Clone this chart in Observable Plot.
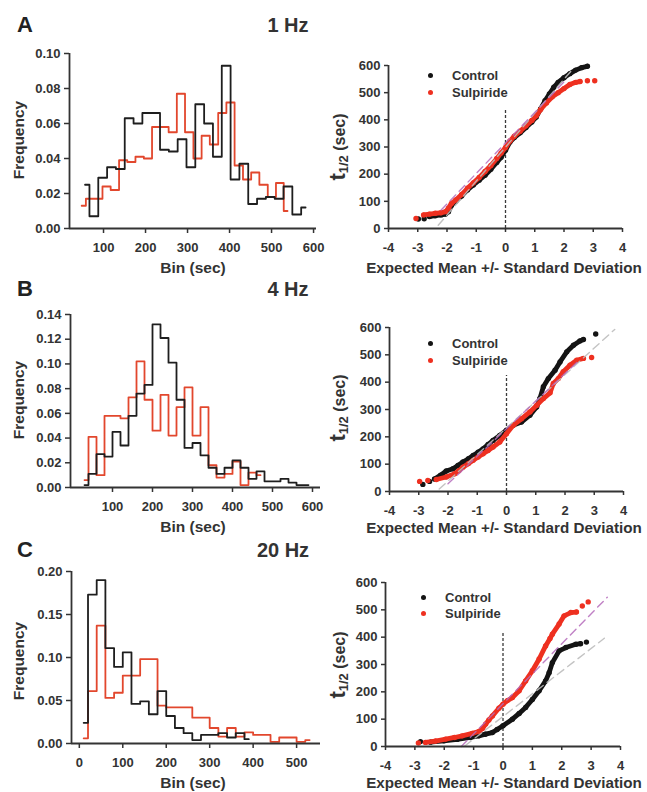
<!DOCTYPE html>
<html>
<head>
<meta charset="utf-8">
<script src="https://cdn.jsdelivr.net/npm/d3@7"></script>
<script src="https://cdn.jsdelivr.net/npm/@observablehq/plot@0.6"></script>
<style>
  html, body { margin: 0; padding: 0; background: #fff; }
  #root { position: relative; width: 647px; height: 792px; overflow: hidden; background: #fff;
          font-family: "Liberation Sans", Arial, Helvetica, sans-serif; font-weight: bold; color: #333; }
  .lbl { position: absolute; white-space: nowrap; line-height: 1; }
  .dot { position: absolute; border-radius: 50%; }
</style>
</head>
<body>
<div id="root"></div>
<script>
// ---------------- DATA ----------------
// Panel A (1 Hz) histograms: bin centres (sec) and frequencies
const histA_ctl_bin  = [56,77,98,119,140,161,182,203,224,245,266,287,308,329,350,371,392,413,434,455,476,497,518,539,560,581];
const histA_ctl_freq = [0.025,0.007,0.029,0.035,0.034,0.063,0.060,0.066,0.066,0.045,0.044,0.051,0.035,0.071,0.060,0.041,0.093,0.028,0.037,0.014,0.017,0.018,0.017,0.024,0.008,0.012];
const histA_sul_bin  = [48,68,88,107,127,147,166,186,206,225,245,265,284,304,324,343,363,383,402,422,442,461,481,501,520,538];
const histA_sul_freq = [0.013,0.017,0.017,0.024,0.022,0.039,0.038,0.041,0.040,0.058,0.058,0.055,0.077,0.055,0.040,0.053,0.048,0.066,0.072,0.036,0.028,0.032,0.025,0.018,0.026,0.010];
const histA_xTicks = [100,200,300,400,500,600];
const histA_yTicks = [0,0.02,0.04,0.06,0.08,0.10];

// Panel B (4 Hz)
const histB_ctl_bin  = [30,50,70,90,110,130,150,170,190,210,230,250,270,290,310,330,350,370,390,410,430,450,470,490,510,530,550,570,590];
const histB_ctl_freq = [0.002,0.011,0.027,0.025,0.045,0.034,0.058,0.076,0.083,0.132,0.121,0.101,0.071,0.032,0.036,0.026,0.016,0.011,0.016,0.022,0.016,0.007,0.013,0.005,0.005,0.007,0.004,0.002,0.002];
const histB_sul_bin  = [30,50,70,90,110,130,150,170,190,210,230,250,270,290,310,330,350,370,390,410,430,450,470];
const histB_sul_freq = [0.006,0.041,0.010,0.058,0.058,0.056,0.073,0.102,0.071,0.046,0.075,0.042,0.065,0.081,0.042,0.065,0.018,0.008,0.011,0.021,0.002,0.012,0.010];
const histB_xTicks = [100,200,300,400,500,600];
const histB_yTicks = [0,0.02,0.04,0.06,0.08,0.10,0.12,0.14];

// Panel C (20 Hz)
const histC_ctl_bin  = [10,30,50,70,90,110,130,150,170,190,210,230,250,270,290,310,330,350,370,390];
const histC_ctl_freq = [0.024,0.173,0.190,0.111,0.089,0.106,0.046,0.049,0.034,0.061,0.032,0.018,0.012,0.004,0.010,0.010,0.012,0.007,0.012,0.005];
const histC_sul_bin  = [10,30,50,70,90,110,130,150,170,190,210,230,250,270,290,310,330,350,370,390,410,430,450,470,490,510,530];
const histC_sul_freq = [0.006,0.061,0.137,0.053,0.059,0.079,0.079,0.098,0.098,0.044,0.042,0.042,0.042,0.030,0.030,0.018,0.008,0.018,0.008,0.013,0.010,0.010,0.002,0.007,0.007,0.002,0.004];
const histC_xTicks = [0,100,200,300,400,500];
const histC_yTicks = [0,0.05,0.10,0.15,0.20];

// Probability plots: [expected z, t1/2 (sec)]
const qq_xTicks = [-4,-3,-2,-1,0,1,2,3,4];
const qq_yTicks = [0,100,200,300,400,500,600];

const qqA_ctl = [[-2.6,44],[-2.4,47],[-2.2,50],[-2.05,53],[-1.95,62],[-1.85,85],[-1.7,100],[-1.5,120],[-1.3,142],[-1.1,160],[-0.9,178],[-0.7,196],[-0.5,218],[-0.3,243],[-0.15,262],[0,288],[0.15,318],[0.3,335],[0.5,352],[0.7,372],[0.9,392],[1.05,410],[1.2,440],[1.35,470],[1.5,495],[1.65,520],[1.8,538],[2.0,555],[2.2,570],[2.4,583],[2.6,592],[2.8,597]];
const qqA_ctl_tail = [[-2.98,35],[-2.78,36]];
const qqA_sul = [[-2.8,50],[-2.6,53],[-2.4,56],[-2.2,58],[-2.05,62],[-1.95,75],[-1.85,92],[-1.7,105],[-1.5,125],[-1.3,148],[-1.1,168],[-0.9,188],[-0.7,210],[-0.5,232],[-0.3,258],[-0.15,278],[0,298],[0.15,322],[0.3,340],[0.5,358],[0.7,378],[0.9,398],[1.05,415],[1.2,438],[1.4,462],[1.6,485],[1.8,500],[2.0,515],[2.2,530],[2.4,538],[2.55,541]];
const qqA_sul_tail = [[-3.06,37],[2.8,544],[3.05,544]];
const qqA_ctl_fit = [[-2.3,12],[2.3,587]];
const qqA_sul_fit = [[-2.2,68],[2.05,545]];

const qqB_ctl = [[-2.46,46],[-2.25,60],[-2.06,75],[-1.83,83],[-1.66,95],[-1.49,108],[-1.3,120],[-1.14,132],[-0.97,144],[-0.8,156],[-0.63,172],[-0.46,187],[-0.23,205],[0,224],[0.23,242],[0.51,254],[0.8,279],[1.03,309],[1.14,340],[1.26,383],[1.43,413],[1.66,444],[1.83,474],[2.06,511],[2.29,535],[2.51,551],[2.63,556]];
const qqB_ctl_tail = [[-2.86,26],[-2.63,37],[3.05,576]];
const qqB_sul = [[-2.4,44],[-2.06,53],[-1.77,65],[-1.63,76],[-1.49,89],[-1.3,102],[-1.14,114],[-0.97,126],[-0.8,138],[-0.63,150],[-0.46,163],[-0.23,181],[0,211],[0.23,242],[0.51,266],[0.8,291],[1.03,315],[1.26,340],[1.49,361],[1.6,395],[1.77,413],[1.94,438],[2.17,462],[2.4,480],[2.63,487]];
const qqB_sul_tail = [[-2.97,37],[-2.69,40],[2.91,490]];
const qqB_ctl_fit = [[-2.3,9],[3.7,593]];
const qqB_sul_fit = [[-2.0,28],[2.5,482]];

const qqC_ctl = [[-2.47,16],[-2.01,21],[-1.56,26],[-1.11,33],[-0.82,39],[-0.6,45],[-0.36,51],[-0.2,62],[0,76],[0.32,100],[0.55,121],[0.77,143],[1.0,172],[1.23,204],[1.45,240],[1.57,270],[1.68,307],[1.91,350],[2.14,362],[2.48,374],[2.64,376]];
const qqC_ctl_tail = [[-2.81,18],[2.84,382]];
const qqC_sul = [[-2.64,15],[-2.3,20],[-1.95,27],[-1.65,33],[-1.39,39],[-1.05,48],[-0.82,55],[-0.7,66],[-0.59,82],[-0.48,97],[-0.36,112],[-0.14,140],[0,155],[0.15,168],[0.32,179],[0.55,204],[0.77,240],[1.0,277],[1.23,320],[1.45,368],[1.6,395],[1.68,411],[1.91,448],[2.08,478],[2.31,490],[2.5,492]];
const qqC_sul_tail = [[-2.88,13],[2.70,514],[2.90,529]];
const qqC_ctl_fit = [[-1.3,2],[3.45,396]];
const qqC_sul_fit = [[-1.42,0],[3.55,546]];

const panelLetters = ["A","B","C"];
const panelFreqs = ["1 Hz","4 Hz","20 Hz"];
const seriesNames = ["Control","Sulpiride"];

// ---------------- STYLE ----------------
const FONT = '"Liberation Sans", Arial, Helvetica, sans-serif';
const INK = "#333";
const H_BLACK = "#1e1e1e", H_RED = "#e2472d";
const Q_BLACK = "#141414", Q_RED = "#ee3020";
const root = document.getElementById("root");

function place(node, left, top) {
  node.style.position = "absolute";
  node.style.left = left + "px";
  node.style.top = top + "px";
  root.appendChild(node);
}
function label(html, x, y, size, opts = {}) {
  const d = document.createElement("div");
  d.className = "lbl";
  d.innerHTML = html;
  d.style.left = x + "px";
  d.style.top = y + "px";
  d.style.fontSize = size + "px";
  if (opts.color) d.style.color = opts.color;
  const tx = opts.left ? "translate(0,-50%)" : "translate(-50%,-50%)";
  d.style.transform = tx + (opts.rotate ? " rotate(-90deg)" : "");
  root.appendChild(d);
}
function legendDot(x, y, color) {
  const d = document.createElement("div");
  d.className = "dot";
  d.style.width = "5px"; d.style.height = "5px";
  d.style.left = (x - 2.5) + "px"; d.style.top = (y - 2.5) + "px";
  d.style.background = color;
  root.appendChild(d);
}

const baseStyle = {fontFamily: FONT, fontSize: "13px", fontWeight: "bold", color: INK,
                   background: "transparent", overflow: "visible"};

function histogram(o) {
  const ctl = o.ctlBin.map((b, i) => ({bin: b, freq: o.ctlFreq[i]}));
  const sul = o.sulBin.map((b, i) => ({bin: b, freq: o.sulFreq[i]}));
  const svg = Plot.plot({
    width: o.width, height: o.height,
    marginLeft: o.ml, marginRight: o.mr, marginTop: o.mt, marginBottom: o.mb,
    style: baseStyle,
    x: {domain: o.xDomain},
    y: {domain: o.yDomain},
    marks: [
      Plot.line(sul, {x: "bin", y: "freq", curve: "step", stroke: H_RED, strokeWidth: 1.8}),
      Plot.line(ctl, {x: "bin", y: "freq", curve: "step", stroke: H_BLACK, strokeWidth: 1.8}),
      Plot.ruleY([o.yDomain[0]], {stroke: INK, strokeWidth: 1.8}),
      Plot.ruleX([{x: o.xDomain[0], y1: o.yDomain[0], y2: o.yDomain[1]}], {x: "x", y1: "y1", y2: "y2", stroke: INK, strokeWidth: 1.8}),
      Plot.axisX(o.xTicks, {tickSize: 5, tickPadding: 9, strokeWidth: 1.5, tickFormat: d => String(d), label: null}),
      Plot.axisY(o.yTicks, {tickSize: 5, tickPadding: 4, strokeWidth: 1.5, tickFormat: d3.format(".2f"), label: null})
    ]
  });
  place(svg, o.left, o.top);
}

function qq(o) {
  const pts = a => a.map(([z, t]) => ({z, t}));
  const ctl = pts(o.ctl), sul = pts(o.sul);
  const ctlAll = ctl.concat(pts(o.ctlTail)), sulAll = sul.concat(pts(o.sulTail));
  const svg = Plot.plot({
    width: o.width, height: o.height,
    marginLeft: o.ml, marginRight: o.mr, marginTop: o.mt, marginBottom: o.mb,
    style: baseStyle,
    x: {domain: [-4, 4]},
    y: {domain: [0, 600]},
    marks: [
      Plot.ruleX([{x: 0, y1: 0, y2: o.zeroTop}], {x: "x", y1: "y1", y2: "y2", stroke: "#3a3a3a", strokeWidth: 1.3, strokeDasharray: "3,2"}),
      Plot.line(ctl, {x: "z", y: "t", stroke: Q_BLACK, strokeWidth: 4.8, strokeLinecap: "round", strokeLinejoin: "round"}),
      Plot.dot(ctlAll, {x: "z", y: "t", r: 2.7, fill: Q_BLACK}),
      Plot.line(sul, {x: "z", y: "t", stroke: Q_RED, strokeWidth: 4.8, strokeLinecap: "round", strokeLinejoin: "round"}),
      Plot.dot(sulAll, {x: "z", y: "t", r: 2.7, fill: Q_RED}),
      Plot.line(pts(o.ctlFit), {x: "z", y: "t", stroke: "#bdbdbd", strokeWidth: 1.4, strokeDasharray: "8,5", strokeOpacity: 0.9}),
      Plot.line(pts(o.sulFit), {x: "z", y: "t", stroke: "#b56bbb", strokeWidth: 1.4, strokeDasharray: "8,5", strokeOpacity: 0.85}),
      Plot.ruleY([0], {stroke: INK, strokeWidth: 1.8}),
      Plot.ruleX([{x: -4, y1: 0, y2: 600}], {x: "x", y1: "y1", y2: "y2", stroke: INK, strokeWidth: 1.8}),
      Plot.axisX(qq_xTicks, {tickSize: 4, tickPadding: 10, strokeWidth: 1.5, tickFormat: d => String(d), label: null}),
      Plot.axisY(qq_yTicks, {tickSize: 4, tickPadding: 4, strokeWidth: 1.5, tickFormat: d => String(d), label: null})
    ]
  });
  place(svg, o.left, o.top);
}

// ---------------- PANELS ----------------
histogram({left: 0, top: 40, width: 330, height: 230, ml: 69, mr: 14, mt: 13, mb: 42,
  xDomain: [19, 607], yDomain: [0, 0.10], xTicks: histA_xTicks, yTicks: histA_yTicks,
  ctlBin: histA_ctl_bin, ctlFreq: histA_ctl_freq, sulBin: histA_sul_bin, sulFreq: histA_sul_freq});
histogram({left: 0, top: 300, width: 330, height: 230, ml: 70, mr: 10, mt: 14, mb: 43,
  xDomain: [-5, 620], yDomain: [0, 0.14], xTicks: histB_xTicks, yTicks: histB_yTicks,
  ctlBin: histB_ctl_bin, ctlFreq: histB_ctl_freq, sulBin: histB_sul_bin, sulFreq: histB_sul_freq});
histogram({left: 0, top: 560, width: 330, height: 232, ml: 71, mr: 10, mt: 11, mb: 49,
  xDomain: [-18, 555], yDomain: [0, 0.20], xTicks: histC_xTicks, yTicks: histC_yTicks,
  ctlBin: histC_ctl_bin, ctlFreq: histC_ctl_freq, sulBin: histC_sul_bin, sulFreq: histC_sul_freq});

qq({left: 340, top: 40, width: 307, height: 230, ml: 48, mr: 25, mt: 25, mb: 42, zeroTop: 435,
  ctl: qqA_ctl, ctlTail: qqA_ctl_tail, sul: qqA_sul, sulTail: qqA_sul_tail, ctlFit: qqA_ctl_fit, sulFit: qqA_sul_fit});
qq({left: 340, top: 300, width: 307, height: 230, ml: 49, mr: 24, mt: 27, mb: 39, zeroTop: 424,
  ctl: qqB_ctl, ctlTail: qqB_ctl_tail, sul: qqB_sul, sulTail: qqB_sul_tail, ctlFit: qqB_ctl_fit, sulFit: qqB_sul_fit});
qq({left: 340, top: 560, width: 307, height: 232, ml: 45, mr: 27, mt: 22, mb: 46, zeroTop: 420,
  ctl: qqC_ctl, ctlTail: qqC_ctl_tail, sul: qqC_sul, sulTail: qqC_sul_tail, ctlFit: qqC_ctl_fit, sulFit: qqC_sul_fit});

// ---------------- TEXT ----------------
const rowsY = [25, 289, 550];
const hzX = [288, 288, 283];
const freqY = [140, 400, 661];
const binY = [268, 527, 783];
const tY = [147, 408, 665];
const expY = [268, 528, 783];
const legend = [{x: 430, y: [75, 92]}, {x: 430, y: [343, 360]}, {x: 423, y: [597, 613]}];

for (let i = 0; i < 3; i++) {
  label(panelLetters[i], 25, rowsY[i], 22, {color: "#222"});
  label(panelFreqs[i], hzX[i], rowsY[i], 20);
  label("Frequency", 19, freqY[i], 15.5, {rotate: true});
  label("Bin (sec)", 193, binY[i], 15.5);
  label('<span style="font-size:22px">t</span><sub style="font-size:13px;vertical-align:-3px">1/2</sub><span style="font-size:16px"> (sec)</span>', 338, tY[i], 16, {rotate: true});
  label("Expected Mean +/- Standard Deviation", 504, expY[i], 15.2);
  legendDot(legend[i].x, legend[i].y[0], Q_BLACK);
  legendDot(legend[i].x, legend[i].y[1], Q_RED);
  label(seriesNames[0], legend[i].x + 22, legend[i].y[0], 13, {left: true});
  label(seriesNames[1], legend[i].x + 22, legend[i].y[1], 13, {left: true});
}
</script>
</body>
</html>
